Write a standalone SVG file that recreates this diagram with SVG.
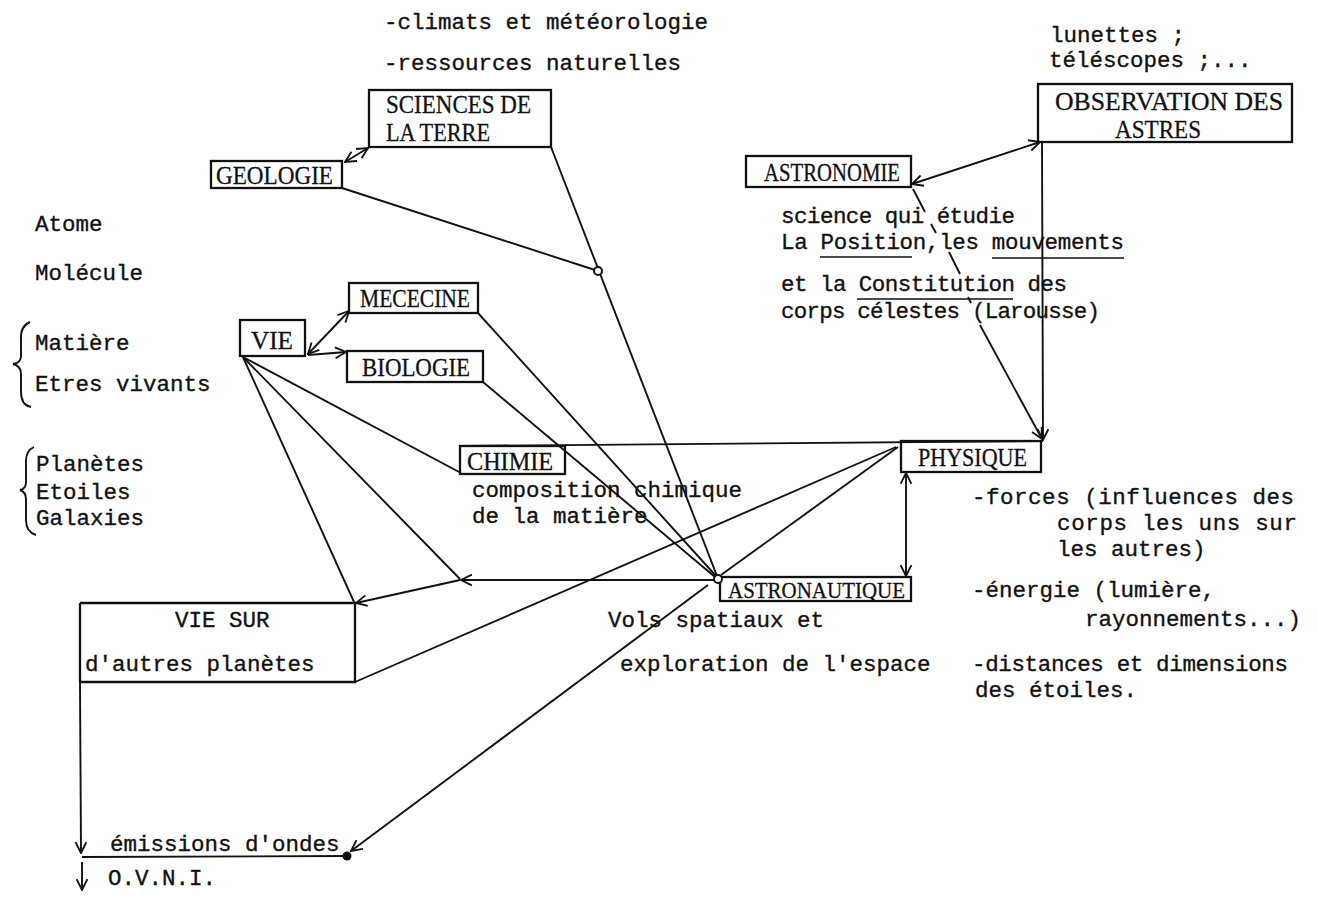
<svg xmlns="http://www.w3.org/2000/svg" width="1318" height="897" viewBox="0 0 1318 897">
<defs>
<style>
.t{font-family:"Liberation Mono","DejaVu Sans Mono",monospace;font-size:22.5px;fill:#111;stroke:#111;stroke-width:0.35}
.b{font-family:"Liberation Serif","DejaVu Serif",serif;font-size:25px;fill:#111;stroke:#111;stroke-width:0.3}
.box{fill:none;stroke:#111;stroke-width:2.3}
.ln{fill:none;stroke:#111;stroke-width:1.9}
.ul{stroke:#111;stroke-width:1.7}
</style>
<marker id="ah" viewBox="0 0 12 12" refX="11" refY="6" markerWidth="13" markerHeight="13" markerUnits="userSpaceOnUse" orient="auto-start-reverse">
<path d="M1,1 L11,6 L1,11" fill="none" stroke="#111" stroke-width="1.7"/>
</marker>
</defs>
<rect width="1318" height="897" fill="#fff"/>

<g id="free-text">
<text class="t" x="384" y="29">-climats et météorologie</text>
<text class="t" x="384" y="70">-ressources naturelles</text>
<text class="t" x="1050" y="42">lunettes ;</text>
<text class="t" x="1049" y="67">téléscopes ;...</text>
<text class="t" x="35" y="231">Atome</text>
<text class="t" x="35" y="280">Molécule</text>
<text class="t" x="35" y="350">Matière</text>
<text class="t" x="35" y="391">Etres vivants</text>
<text class="t" x="36" y="471">Planètes</text>
<text class="t" x="36" y="499">Etoiles</text>
<text class="t" x="36" y="525">Galaxies</text>
<path class="ln" d="M30,322 Q20,326 21,340 L21,356 Q21,363 13,364 Q21,366 21,374 L21,392 Q21,405 31,407" stroke-width="2.4"/>
<path class="ln" d="M34,447 Q25,451 26,464 L26,482 Q26,489 20,490 Q26,492 26,499 L26,520 Q26,532 36,535" stroke-width="2.4"/>
<text class="t" x="781" y="223" textLength="234">science qui étudie</text>
<text class="t" x="781" y="249" textLength="343">La Position,les mouvements</text>
<line class="ul" x1="820" y1="257" x2="912" y2="257"/>
<line class="ul" x1="992" y1="258" x2="1124" y2="258"/>
<text class="t" x="781" y="291" textLength="286">et la Constitution des</text>
<line class="ul" x1="857" y1="299" x2="1013" y2="299"/>
<text class="t" x="781" y="318" textLength="319">corps célestes (Larousse)</text>
<text class="t" x="472" y="497">composition chimique</text>
<text class="t" x="472" y="523">de la matière</text>
<text class="t" x="972" y="504" textLength="322">-forces (influences des</text>
<text class="t" x="1057" y="530" textLength="240">corps les uns sur</text>
<text class="t" x="1057" y="556">les autres)</text>
<text class="t" x="972" y="597">-énergie (lumière,</text>
<text class="t" x="1085" y="626">rayonnements...)</text>
<text class="t" x="972" y="671" textLength="316">-distances et dimensions</text>
<text class="t" x="975" y="697">des étoiles.</text>
<text class="t" x="608" y="627">Vols spatiaux et</text>
<text class="t" x="620" y="671">exploration de l'espace</text>
<text class="t" x="110" y="851">émissions d'ondes</text>
<text class="t" x="108" y="885">O.V.N.I.</text>
</g>

<g id="node-sciences-terre">
<rect class="box" x="369" y="90" width="182" height="57"/>
<text class="b" x="386" y="113" textLength="145" lengthAdjust="spacingAndGlyphs">SCIENCES DE</text>
<text class="b" x="386" y="141" textLength="104" lengthAdjust="spacingAndGlyphs">LA TERRE</text>
</g>
<g id="node-geologie">
<rect class="box" x="211" y="161" width="131" height="27"/>
<text class="b" x="216" y="184" textLength="117" lengthAdjust="spacingAndGlyphs">GEOLOGIE</text>
</g>
<g id="node-observation">
<rect class="box" x="1038" y="84" width="254" height="58"/>
<text class="b" x="1055" y="110" textLength="228" lengthAdjust="spacingAndGlyphs">OBSERVATION DES</text>
<text class="b" x="1115" y="138" textLength="86" lengthAdjust="spacingAndGlyphs">ASTRES</text>
</g>
<g id="node-astronomie">
<rect class="box" x="746" y="156" width="165" height="31"/>
<text class="b" x="764" y="181" textLength="136" lengthAdjust="spacingAndGlyphs">ASTRONOMIE</text>
</g>
<g id="node-mececine">
<rect class="box" x="349" y="283" width="129" height="30"/>
<text class="b" x="360" y="307" textLength="110" lengthAdjust="spacingAndGlyphs">MECECINE</text>
</g>
<g id="node-vie">
<rect class="box" x="240" y="320" width="65" height="36"/>
<text class="b" x="251" y="349" textLength="42" lengthAdjust="spacingAndGlyphs">VIE</text>
</g>
<g id="node-biologie">
<rect class="box" x="347" y="351" width="136" height="31"/>
<text class="b" x="362" y="376" textLength="108" lengthAdjust="spacingAndGlyphs">BIOLOGIE</text>
</g>
<g id="node-chimie">
<rect class="box" x="460" y="446" width="105" height="28"/>
<text class="b" x="467" y="470" textLength="86" lengthAdjust="spacingAndGlyphs">CHIMIE</text>
</g>
<g id="node-physique">
<rect class="box" x="901" y="441" width="140" height="31"/>
<text class="b" x="918" y="466" textLength="109" lengthAdjust="spacingAndGlyphs">PHYSIQUE</text>
</g>
<g id="node-astronautique">
<rect class="box" x="720" y="577" width="191" height="24"/>
<text class="b" x="728" y="598" textLength="177" lengthAdjust="spacingAndGlyphs" style="font-size:24px">ASTRONAUTIQUE</text>
</g>
<g id="node-vie-sur">
<path class="box" d="M80,603 L355,603 L355,682 L80,682 M80,603 L80,682"/>
<text class="t" x="175" y="627">VIE SUR</text>
<text class="t" x="85" y="671">d'autres planètes</text>
</g>

<g id="connectors">
<line class="ln" x1="345" y1="162" x2="368" y2="148" marker-start="url(#ah)" marker-end="url(#ah)"/>
<line class="ln" x1="342" y1="188" x2="595" y2="270"/>
<line class="ln" x1="551" y1="147" x2="717" y2="576"/>
<circle cx="598" cy="271" r="4" fill="#fff" stroke="#111" stroke-width="2"/>
<line class="ln" x1="478" y1="313" x2="716" y2="576"/>
<line class="ln" x1="483" y1="382" x2="715" y2="577"/>
<line class="ln" x1="243" y1="357" x2="461" y2="473"/>
<line class="ln" x1="243" y1="357" x2="460" y2="579"/>
<line class="ln" x1="243" y1="357" x2="354" y2="602"/>
<line class="ln" x1="716" y1="580" x2="461" y2="580" marker-end="url(#ah)"/>
<line class="ln" x1="460" y1="580" x2="356" y2="603" marker-end="url(#ah)"/>
<line class="ln" x1="308" y1="354" x2="349" y2="311" marker-start="url(#ah)" marker-end="url(#ah)"/>
<line class="ln" x1="308" y1="355" x2="346" y2="352" marker-end="url(#ah)"/>
<line class="ln" x1="460" y1="446" x2="1043" y2="441"/>
<line class="ln" x1="912" y1="184" x2="1040" y2="142" marker-start="url(#ah)" marker-end="url(#ah)"/>
<line class="ln" x1="1042" y1="142" x2="1043" y2="440" marker-end="url(#ah)"/>
<path class="ln" d="M913,189 L925,212 M931,224 L936,233 M949,252 L960,274 M968,297 L971,303"/>
<line class="ln" x1="980" y1="325" x2="1042" y2="439" marker-end="url(#ah)"/>
<line class="ln" x1="906" y1="473" x2="906" y2="576" marker-start="url(#ah)" marker-end="url(#ah)"/>
<line class="ln" x1="721" y1="575" x2="898" y2="447"/>
<line class="ln" x1="896" y1="447" x2="355" y2="682"/>
<line class="ln" x1="708" y1="585" x2="351" y2="851" marker-end="url(#ah)"/>
<circle cx="718" cy="579" r="4" fill="#fff" stroke="#111" stroke-width="2"/>
<line class="ln" x1="80" y1="682" x2="81" y2="853" marker-end="url(#ah)"/>
<line class="ln" x1="82" y1="857" x2="347" y2="856" stroke-width="2.3"/>
<circle cx="347" cy="856" r="4.5" fill="#111"/>
<line class="ln" x1="82" y1="862" x2="82" y2="890" marker-end="url(#ah)"/>
</g>
</svg>
